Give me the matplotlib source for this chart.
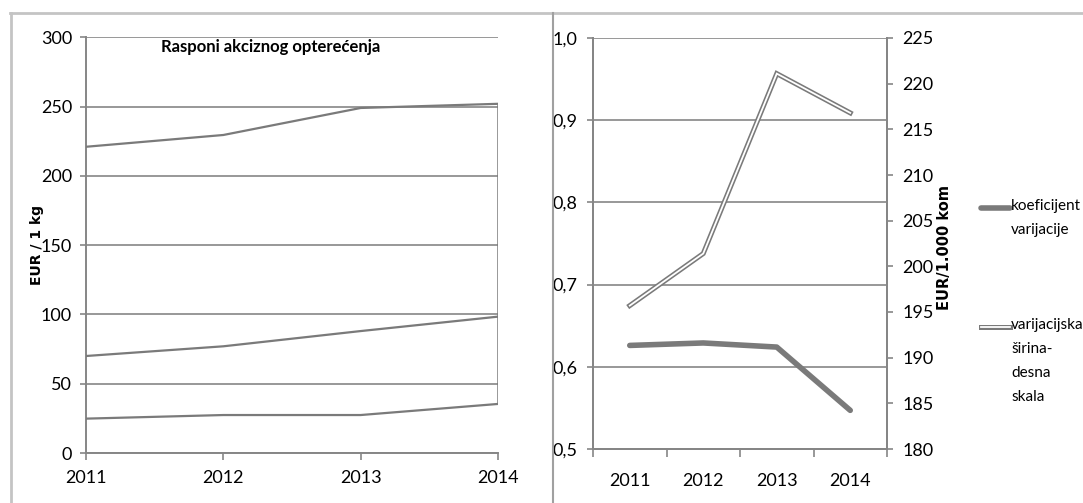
import matplotlib.pyplot as plt
import numpy as np
from matplotlib.lines import Line2D

years = ["2011", "2012", "2013", "2014"]
# left panel: ranges of excise burden (EUR / 1 kg)
raspon_max = [221, 229.5, 249, 252]
raspon_sred = [70, 77, 88, 98.4]
raspon_min = [24.8, 27.4, 27.4, 35.4]
# right panel
koef_var = [0.626, 0.629, 0.624, 0.547]
var_sirina = [195.7, 201.4, 221.1, 216.8]
left_ticks = [0.5, 0.6, 0.7, 0.8, 0.9, 1.0]
right_ticks = [180, 185, 190, 195, 200, 205, 210, 215, 220, 225]
legend_labels = ["koeficijent\nvarijacije", "varijacijska\nširina-\ndesna\nskala"]

GREY = "#868686"
LINE = "#7a7a7a"
BORDER = "#c4c4c4"
W, H = 1083, 503
FS = 13

plt.rcParams["font.family"] = ["Lato", "DejaVu Sans"]

fig = plt.figure(figsize=(W / 100, H / 100), dpi=100)


def fx(px):
    return px / W


def fy(py):
    return 1 - py / H


# --- left panel ---
ax1 = fig.add_axes([fx(86), fy(453), fx(498 - 86), (453 - 37.3) / H])
x = np.arange(len(years))
for s in (raspon_max, raspon_sred, raspon_min):
    ax1.plot(x, s, color=LINE, lw=1.6, solid_joinstyle="round", zorder=3)
ax1.vlines(x[-1], raspon_min[-1], raspon_max[-1], color=LINE, lw=1.8, zorder=3)
ax1.set_xlim(0, len(years) - 1)
ax1.set_ylim(0, 300)
ax1.set_yticks(np.arange(0, 301, 50))
ax1.set_xticks(x)
ax1.set_xticklabels(years)
ax1.grid(axis="y", color=GREY, lw=1.2)
ax1.set_axisbelow(True)
for side in ("top", "right"):
    ax1.spines[side].set_visible(False)
for side in ("left", "bottom"):
    ax1.spines[side].set_color(GREY)
    ax1.spines[side].set_linewidth(1.4)
ax1.tick_params(axis="y", labelsize=FS, length=4, width=1.2, color=GREY, pad=6)
ax1.tick_params(axis="x", labelsize=FS, length=5, width=1.2, color=GREY, pad=7)
ax1.text(0.447, 0.977, "Rasponi akciznog opterećenja", transform=ax1.transAxes,
         ha="center", va="center", fontsize=12, fontweight="bold")
fig.text(fx(37), fy(245), "EUR / 1 kg", rotation=90, ha="center", va="center",
         family="DejaVu Sans", fontweight="bold", fontsize=10)

# --- right panel ---
ax2 = fig.add_axes([fx(593), fy(449), fx(887 - 593), (449 - 38) / H])
ax3 = ax2.twinx()
ax2.plot(x, koef_var, color=LINE, lw=4, solid_capstyle="round",
         solid_joinstyle="round", zorder=3)
ax3.plot(x, var_sirina, color=LINE, lw=3.6, solid_joinstyle="miter", zorder=3)
ax3.plot(x, var_sirina, color="white", lw=1.3, solid_joinstyle="miter", zorder=4)

ax2.set_xlim(-0.5, len(years) - 0.5)
ax2.set_ylim(left_ticks[0], left_ticks[-1])
ax2.set_yticks(left_ticks)
ax2.set_yticklabels([f"{v:.1f}".replace(".", ",") for v in left_ticks])
ax3.set_ylim(right_ticks[0], right_ticks[-1])
ax3.set_yticks(right_ticks)
ax2.set_xticks(np.arange(len(years) + 1) - 0.5)
ax2.set_xticklabels([])
ax2.set_xticks(x, minor=True)
ax2.set_xticklabels(years, minor=True)
ax2.tick_params(axis="x", which="major", length=6, width=1.2, color=GREY)
ax2.tick_params(axis="x", which="minor", length=0, labelsize=FS, pad=17)
ax2.tick_params(axis="y", labelsize=FS, length=4, width=1.2, color=GREY, pad=7)
ax3.tick_params(axis="y", labelsize=FS, length=4, width=1.2, color=GREY, pad=7)
ax2.grid(axis="y", color=GREY, lw=1.2)
ax2.set_axisbelow(True)
for a in (ax2, ax3):
    a.spines["top"].set_visible(False)
    for side in ("left", "right", "bottom"):
        a.spines[side].set_color(GREY)
        a.spines[side].set_linewidth(1.4)
fig.text(fx(945), fy(248), "EUR/1.000 kom", rotation=90, ha="center", va="center",
         family="DejaVu Sans", fontweight="bold", fontsize=10.5)

# legend drawn by hand to keep the sample next to the first text line
fig.add_artist(Line2D([fx(981), fx(1010)], [fy(208)] * 2, color=LINE, lw=4,
                      solid_capstyle="round"))
fig.add_artist(Line2D([fx(981), fx(1010)], [fy(327)] * 2, color=LINE, lw=3.6))
fig.add_artist(Line2D([fx(981), fx(1010)], [fy(327)] * 2, color="white", lw=1.3))
fig.text(fx(1011), fy(199), legend_labels[0], ha="left", va="top", fontsize=11,
         linespacing=1.9)
fig.text(fx(1011), fy(318), legend_labels[1], ha="left", va="top", fontsize=11,
         linespacing=1.9)

# outer frame and panel divider
fig.add_artist(Line2D([fx(10), 1], [fy(12.5)] * 2, color=BORDER, lw=2))
fig.add_artist(Line2D([fx(10.5)] * 2, [0, fy(12.5)], color=BORDER, lw=2))
fig.add_artist(Line2D([fx(553)] * 2, [0, fy(12.5)], color="#a0a0a0", lw=1.5))

fig.savefig("out.png", dpi=100)
plt.close(fig)
